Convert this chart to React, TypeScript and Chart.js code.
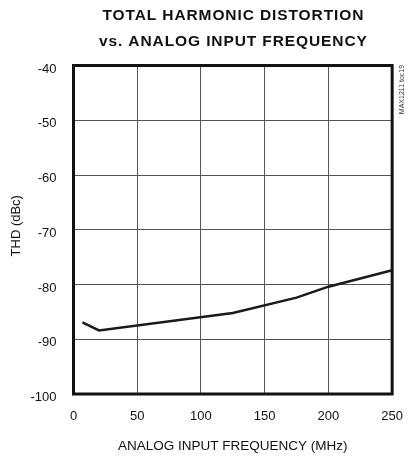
import React, { useEffect, useRef } from "react";
import { Chart, registerables } from "chart.js";

Chart.register(...registerables);

const titleLines = ["TOTAL HARMONIC DISTORTION", "vs. ANALOG INPUT FREQUENCY"];
const frequencies = [7, 20, 125, 175, 200, 250];
const thdValues = [-86.9, -88.4, -85.2, -82.4, -80.4, -77.4];
const xTicks = [0, 50, 100, 150, 200, 250];
const yTicks = [-100, -90, -80, -70, -60, -50, -40];
const xTitle = "ANALOG INPUT FREQUENCY (MHz)";
const yTitle = "THD (dBc)";
const sideLabel = "MAX1211 toc19";

const FONT = "'Liberation Sans', Arial, Helvetica, sans-serif";

const framePlugin = {
  id: "frame",
  afterDatasetsDraw(chart: any) {
    const { ctx, chartArea } = chart;
    ctx.save();
    ctx.strokeStyle = "#111";
    ctx.lineWidth = 3;
    ctx.strokeRect(
      chartArea.left,
      chartArea.top,
      chartArea.right - chartArea.left,
      chartArea.bottom - chartArea.top
    );
    ctx.restore();
  },
  afterDraw(chart: any) {
    const { ctx, chartArea } = chart;
    const cx = (chartArea.left + chartArea.right) / 2;
    // chart title
    ctx.save();
    ctx.font = `bold 15.5px ${FONT}`;
    ctx.fillStyle = "#111";
    ctx.textAlign = "center";
    ctx.textBaseline = "middle";
    try {
      (ctx as any).letterSpacing = "0.9px";
    } catch (e) {}
    ctx.fillText(titleLines[0], cx + 0.5, 15.5);
    ctx.fillText(titleLines[1], cx + 0.5, 41.5);
    ctx.restore();
    // y axis title
    ctx.save();
    ctx.translate(16, (chartArea.top + chartArea.bottom) / 2 - 4);
    ctx.rotate(-Math.PI / 2);
    ctx.font = `13px ${FONT}`;
    ctx.fillStyle = "#111";
    ctx.textAlign = "center";
    ctx.textBaseline = "middle";
    ctx.fillText(yTitle, 0, 0);
    ctx.restore();
    // side label
    ctx.save();
    ctx.translate(chartArea.right + 9.5, chartArea.top + 24);
    ctx.rotate(-Math.PI / 2);
    ctx.font = `7px ${FONT}`;
    ctx.fillStyle = "#333";
    ctx.textAlign = "center";
    ctx.textBaseline = "middle";
    ctx.fillText(sideLabel, 0, 0);
    ctx.restore();
  },
};

export default function App() {
  const canvasRef = useRef<HTMLCanvasElement | null>(null);

  useEffect(() => {
    if (!canvasRef.current) return;
    const chart = new Chart(canvasRef.current, {
      type: "line",
      data: {
        datasets: [
          {
            data: frequencies.map((f, i) => ({ x: f, y: thdValues[i] })),
            borderColor: "#1a1a1a",
            borderWidth: 2.5,
            pointRadius: 0,
            tension: 0,
            fill: false,
          },
        ],
      },
      options: {
        responsive: false,
        animation: false,
        layout: { padding: { left: 0, right: 15.5, top: 65.5, bottom: 0 } },
        plugins: {
          legend: { display: false },
          tooltip: { enabled: false },
          title: { display: false },
        },
        scales: {
          x: {
            type: "linear",
            min: 0,
            max: 250,
            afterBuildTicks: (scale: any) => {
              scale.ticks = xTicks.map((v) => ({ value: v }));
            },
            afterFit: (scale: any) => {
              scale.height = 64;
            },
            ticks: {
              color: "#111",
              padding: 15,
              maxRotation: 0,
              font: { family: FONT, size: 13 },
            },
            grid: { color: "#555", lineWidth: 1, drawTicks: false },
            border: { display: false },
            title: {
              display: true,
              text: xTitle,
              color: "#111",
              font: { family: FONT, size: 13.5 },
              padding: { top: 0, bottom: 3.9 },
            },
          },
          y: {
            type: "linear",
            min: -100,
            max: -40,
            afterBuildTicks: (scale: any) => {
              scale.ticks = yTicks.map((v) => ({ value: v }));
            },
            afterFit: (scale: any) => {
              scale.width = 73.5;
            },
            ticks: {
              color: "#111",
              padding: 17,
              labelOffset: 3.5,
              font: { family: FONT, size: 13 },
            },
            grid: { color: "#555", lineWidth: 1, drawTicks: false },
            border: { display: false },
            title: { display: false },
          },
        },
      },
      plugins: [framePlugin],
    } as any);
    return () => chart.destroy();
  }, []);

  return (
    <div style={{ position: "fixed", left: 0, top: 0, width: 418, height: 458, background: "#fff" }}>
      <canvas ref={canvasRef} width={418} height={458} style={{ width: 418, height: 458, display: "block" }} />
    </div>
  );
}
